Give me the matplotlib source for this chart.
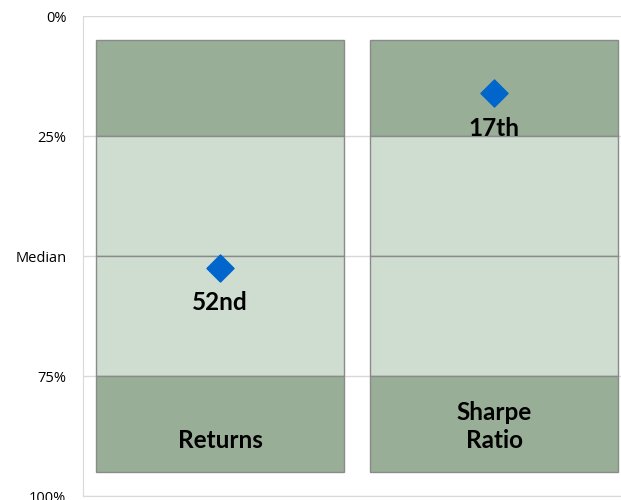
import matplotlib.pyplot as plt

# data
categories = ["Returns", "Sharpe\nRatio"]
band_lo = [5, 25, 50, 75]      # band start (percentile)
band_hi = [25, 50, 75, 95]     # band end
band_col = ["#98ae96", "#cfddd0", "#cfddd0", "#98ae96"]
rank_pos = [52.4, 16.1]
rank_lab = ["52nd", "17th"]
yticks = [0, 25, 50, 75, 100]
ytick_lab = ["0%", "25%", "Median", "75%", "100%"]

fig = plt.figure(figsize=(6.21, 5.0), dpi=100)
ax = fig.add_axes([83 / 621, 4 / 500, 548 / 621, 480 / 500])

x = list(range(len(categories)))
for lo, hi, c in zip(band_lo, band_hi, band_col):
    ax.bar(x, [hi - lo] * len(x), bottom=lo, width=0.905, color=c,
           edgecolor="#8a8a8a", linewidth=1.0, zorder=2)

ax.scatter(x, rank_pos, marker="D", s=190, color="#0066cc", zorder=4)
for xi, yi, t in zip(x, rank_pos, rank_lab):
    ax.annotate(t, (xi, yi), xytext=(0, -25), textcoords="offset points",
                ha="center", va="center", fontsize=17.5, fontweight="bold",
                family="Lato", zorder=5)

# category names inside bottom band
ax.text(x[0], 88.5, categories[0], ha="center", va="center", fontsize=17.5,
        fontweight="bold", family="Lato", zorder=5)
ax.text(x[1], 85.5, categories[1], ha="center", va="center", fontsize=17.5,
        fontweight="bold", family="Lato", linespacing=1.3, zorder=5)

ax.set_xlim(-0.5, 1.5)
ax.set_ylim(100, 0)
ax.set_xticks([])
ax.set_yticks(yticks)
ax.set_yticklabels(ytick_lab, fontsize=10.5, family="Open Sans")
ax.tick_params(axis="y", length=0, pad=12)
ax.yaxis.grid(True, color="#d9d9d9", linewidth=1.0, zorder=0)
ax.set_axisbelow(True)
for s in ["left", "bottom", "top", "right"]:
    ax.spines[s].set_color("#d9d9d9")
ax.spines["top"].set_visible(False)
ax.spines["right"].set_visible(False)

fig.savefig("out.png", dpi=100)
